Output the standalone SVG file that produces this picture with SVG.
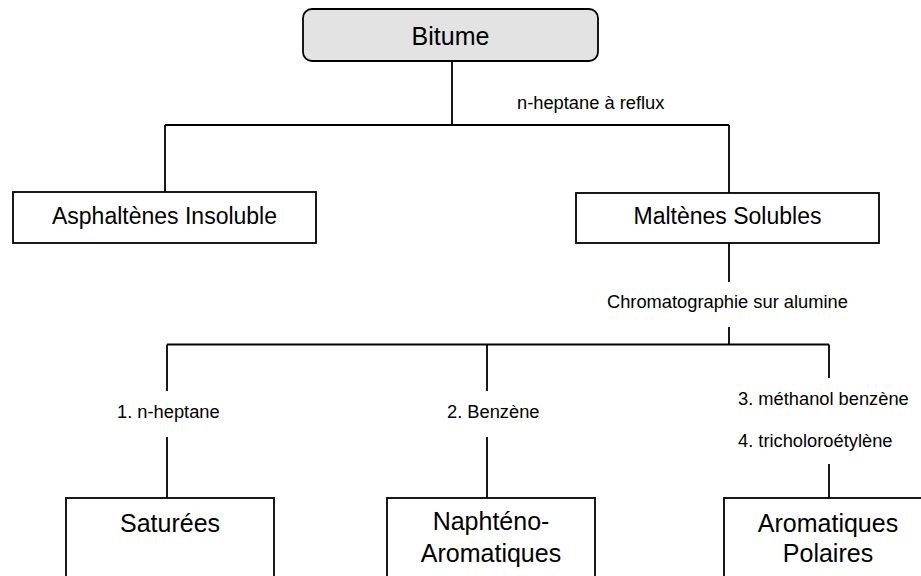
<svg xmlns="http://www.w3.org/2000/svg" width="921" height="576" viewBox="0 0 921 576">
<style>
.box{fill:#ffffff;stroke:#000000;stroke-width:1.8}
.root{fill:#e3e3e3;stroke:#000000;stroke-width:1.8}
.ln{stroke:#000000;stroke-width:1.8;fill:none}
.big{font-family:"Liberation Sans",Arial,sans-serif;font-size:25px;fill:#000000;text-anchor:middle}
.mid{font-family:"Liberation Sans",Arial,sans-serif;font-size:23px;fill:#000000;text-anchor:middle}
.lbl{font-family:"Liberation Sans",Arial,sans-serif;font-size:18.3px;fill:#000000}
</style>
<rect width="921" height="576" fill="#ffffff"/>
<g id="connectors">
<path class="ln" d="M452 61 V125 M165 125 H729 M165 125 V192 M729 125 V193"/>
<path class="ln" d="M729 243 V282 M729 327 V344.5 M167 344.5 H829"/>
<path class="ln" d="M167 344.5 V391 M167 437 V498"/>
<path class="ln" d="M487 344.5 V391 M487 437 V498"/>
<path class="ln" d="M829 344.5 V378 M829 464 V498"/>
<text class="lbl" x="517" y="109">n-heptane à reflux</text>
<text class="lbl" x="607" y="308">Chromatographie sur alumine</text>
<text class="lbl" x="117" y="418">1. n-heptane</text>
<text class="lbl" x="447" y="418">2. Benzène</text>
<text class="lbl" x="738" y="405">3. méthanol benzène</text>
<text class="lbl" x="738" y="447">4. tricholoroétylène</text>
</g>
<g id="bitume">
<rect class="root" x="303" y="9" width="295" height="52" rx="9" ry="9"/>
<text class="big" x="450.5" y="45">Bitume</text>
</g>
<g id="asphaltenes">
<rect class="box" x="13" y="192" width="303" height="51"/>
<text class="mid" x="164.5" y="224">Asphaltènes Insoluble</text>
</g>
<g id="maltenes">
<rect class="box" x="576" y="193" width="303" height="50"/>
<text class="mid" x="727.5" y="224">Maltènes Solubles</text>
</g>
<g id="saturees">
<rect class="box" x="66" y="498" width="208" height="100"/>
<text class="big" x="170" y="532">Saturées</text>
</g>
<g id="naphteno">
<rect class="box" x="387" y="498" width="208" height="100"/>
<text class="big" x="491" y="530">Naphténo-</text>
<text class="big" x="491" y="562">Aromatiques</text>
</g>
<g id="aromatiques">
<rect class="box" x="724" y="498" width="208" height="100"/>
<text class="big" x="828" y="532">Aromatiques</text>
<text class="big" x="828" y="562">Polaires</text>
</g>
</svg>
